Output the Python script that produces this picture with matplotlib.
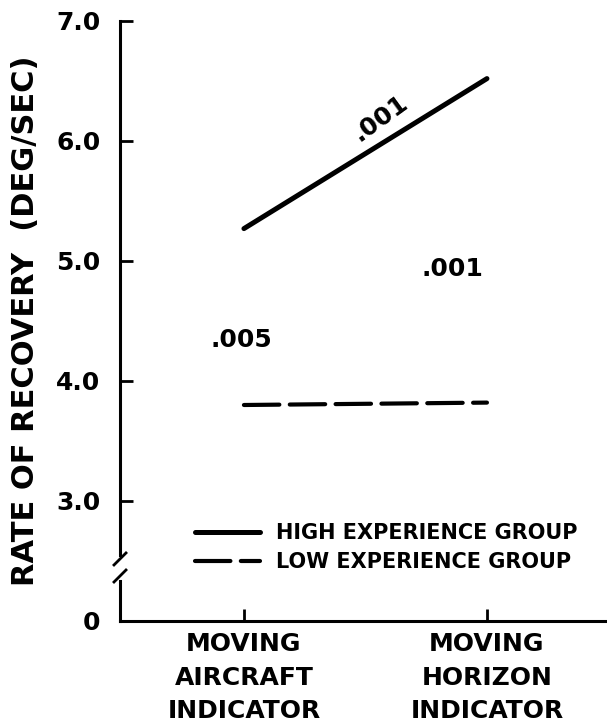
import numpy as np
import matplotlib.pyplot as plt
import matplotlib.transforms as mtransforms

# 数据（0 画在 2.0 处，纵轴有断开）
categories = ["MOVING\nAIRCRAFT\nINDICATOR", "MOVING\nHORIZON\nINDICATOR"]
x_pos = [0, 1]
high_group = [5.27, 6.52]
low_group = [3.80, 3.82]
y_ticks = [2.0, 3.0, 4.0, 5.0, 6.0, 7.0]
y_labels = ["0", "3.0", "4.0", "5.0", "6.0", "7.0"]
notes = [".001", ".001", ".005"]

plt.rcParams['font.family'] = ['DejaVu Sans']
plt.rcParams['font.weight'] = 'bold'

fig = plt.figure(figsize=(6.07, 7.28), dpi=100)
ax = fig.add_axes([120/607, 1-621/728, 487/607, 600/728])

ax.plot(x_pos, high_group, color='black', lw=3.6, solid_capstyle='round',
        label="HIGH EXPERIENCE GROUP")
ax.plot(x_pos, low_group, color='black', lw=3.0, dashes=(8.5, 2.5),
        dash_capstyle='round', label="LOW EXPERIENCE GROUP")

# p 值标注
ax.text(0.56, 6.19, notes[0], fontsize=18, rotation=36, ha='center', va='center')
ax.text(0.86, 4.93, notes[1], fontsize=18, ha='center', va='center')
ax.text(-0.01, 4.34, notes[2], fontsize=18, ha='center', va='center')

ax.set_xlim(-0.51, 1.494)
ax.set_ylim(2.0, 7.0)
ax.set_xticks(x_pos)
ax.set_xticklabels(categories, fontsize=18, linespacing=1.5)
ax.set_yticks(y_ticks)
ax.set_yticklabels(y_labels, fontsize=18)
ax.tick_params(axis='y', direction='in', length=9, width=2, pad=14)
ax.tick_params(axis='x', direction='in', length=8.5, width=2, pad=8)
ax.set_ylabel("RATE OF RECOVERY  (DEG/SEC)", fontsize=22, fontweight='bold')
ax.yaxis.set_label_coords(-0.165, 0.5)

for s in ['top', 'right', 'left']:
    ax.spines[s].set_visible(False)
ax.spines['bottom'].set_linewidth(2.2)

# 断开的纵轴
tr = mtransforms.blended_transform_factory(ax.transAxes, ax.transData)
d = 6/487
ax.plot([0, 0], [2.0, 2.33], color='black', lw=2.2, transform=tr, clip_on=False)
ax.plot([0, 0], [2.55, 7.0], color='black', lw=2.2, transform=tr, clip_on=False)
ax.plot([-d, d], [2.325, 2.425], color='black', lw=2.0, transform=tr, clip_on=False)
ax.plot([-d, d], [2.467, 2.567], color='black', lw=2.0, transform=tr, clip_on=False)

ax.legend(loc='upper left', bbox_to_anchor=(75/487, 1-502/600), frameon=False,
          prop={'size': 15, 'weight': 'bold'}, handlelength=3.1,
          handletextpad=0.8, labelspacing=0.45, borderpad=0, borderaxespad=0)

fig.savefig("out.png", dpi=100)
